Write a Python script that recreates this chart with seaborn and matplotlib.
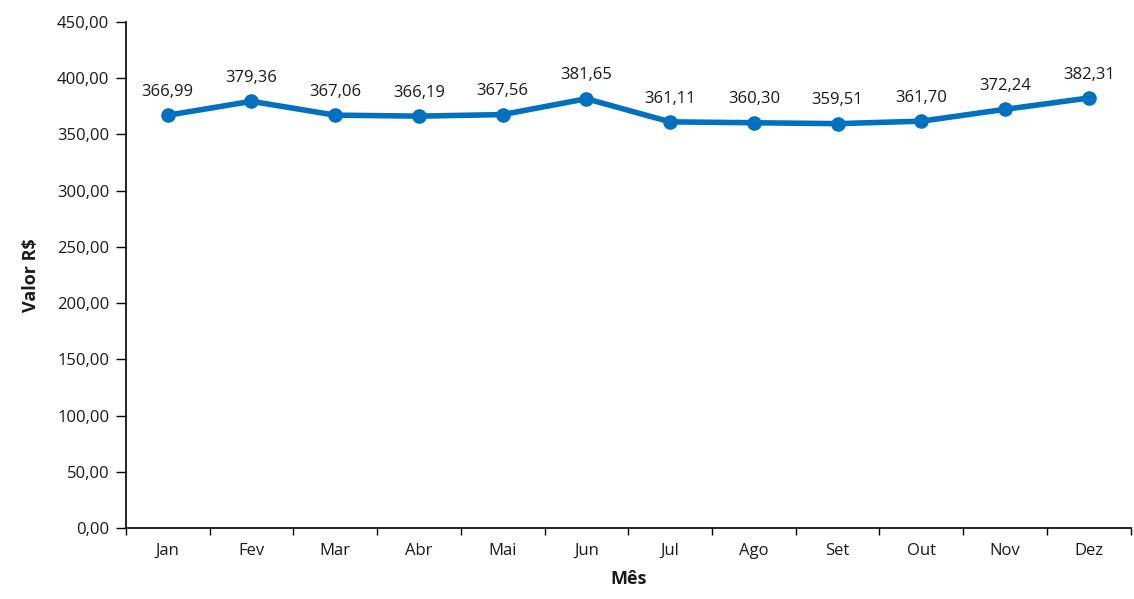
import pandas as pd
import seaborn as sns
import matplotlib.pyplot as plt
from matplotlib.ticker import FixedLocator

meses = ["Jan", "Fev", "Mar", "Abr", "Mai", "Jun", "Jul", "Ago", "Set", "Out", "Nov", "Dez"]
valores = [366.99, 379.36, 367.06, 366.19, 367.56, 381.65, 361.11, 360.30, 359.51, 361.70, 372.24, 382.31]

df = pd.DataFrame({"mes": meses, "valor": valores})
df["pos"] = range(len(df))

sns.set_style("white")
plt.rcParams["font.family"] = ["Open Sans", "DejaVu Sans"]
txt = "#1a1a1a"

fig = plt.figure(figsize=(11.34, 5.99), dpi=100)
ax = fig.add_axes([0.111, 0.1185, 0.886, 0.845])

sns.lineplot(data=df, x="pos", y="valor", ax=ax, color="#0070C0", linewidth=4,
             marker="o", markersize=10.5, markeredgewidth=0)

for x, v in zip(df["pos"], df["valor"]):
    ax.annotate(f"{v:.2f}".replace(".", ","), (x, v), xytext=(0, 11),
                textcoords="offset points", ha="center", va="bottom",
                fontsize=12, color=txt)

ax.set_xlim(-0.5, len(meses) - 0.5)
ax.set_ylim(0, 450)
ax.set_yticks(range(0, 451, 50))
ax.set_yticklabels([f"{t},00" for t in range(0, 451, 50)], fontsize=12, color=txt)
ax.set_xticks(df["pos"])
ax.set_xticklabels(meses, fontsize=12, color=txt)
ax.xaxis.set_minor_locator(FixedLocator([i - 0.5 for i in range(len(meses) + 1)]))
ax.tick_params(axis="x", which="major", bottom=False, length=0, pad=11)
ax.tick_params(axis="x", which="minor", bottom=True, length=5, width=1, color="black", direction="out")
ax.tick_params(axis="y", left=True, length=7, width=1, color="black", direction="out", pad=5)

for s in ["top", "right"]:
    ax.spines[s].set_visible(False)
for s in ["left", "bottom"]:
    ax.spines[s].set_color("black")
    ax.spines[s].set_linewidth(1.2)

ax.set_xlabel("Mês", fontsize=13, fontweight="bold", labelpad=8, color=txt)
ax.set_ylabel("Valor R$", fontsize=13, fontweight="bold", labelpad=12, color=txt)

fig.savefig("out.png", dpi=100)
